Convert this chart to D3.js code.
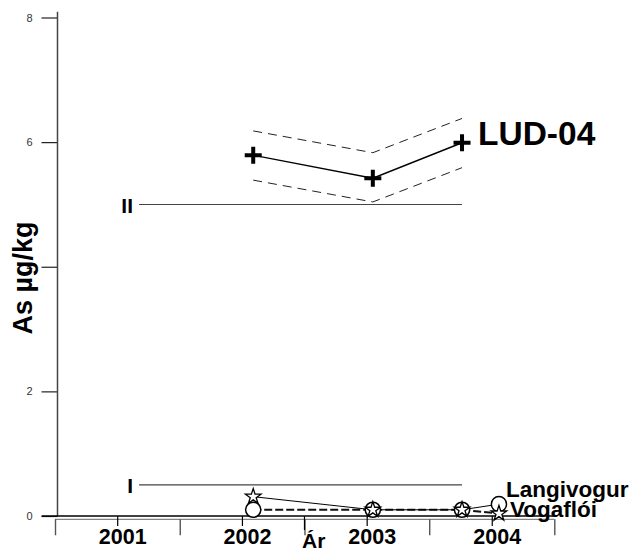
<!DOCTYPE html>
<html>
<head>
<meta charset="utf-8">
<script src="https://cdn.jsdelivr.net/npm/d3@7"></script>
<style>
  html, body { margin: 0; padding: 0; background: #fff; }
  svg { display: block; font-family: "Liberation Sans", Arial, sans-serif; }
</style>
</head>
<body>
<svg id="chart" width="632" height="552"></svg>
<script>
// ---- data ----
const yearLabels = ["2001", "2002", "2003", "2004"];
const yearStarts = ["2001-01-01", "2002-01-01", "2003-01-01", "2004-01-01", "2005-01-01"];
const yTicks = [0, 2, 4, 6, 8];

const ludDates = ["2002-08-04", "2003-07-20", "2004-04-06"];
const ludValues = [5.79, 5.42, 5.99];
const ludUpper = [6.18, 5.83, 6.38];
const ludLower = [5.39, 5.04, 5.59];

const refLevels = [5.0, 0.5];
const refLabels = ["II", "I"];
const refDates = ["2001-09-04", "2004-04-06"];

const lowDates = ["2002-08-04", "2003-07-20", "2004-04-06", "2004-07-23"];
const langivogurValues = [0.31, 0.10, 0.10, 0.19];
const vogafloiValues = [0.10, 0.10, 0.10, 0.04];
const starValues = [0.31, 0.10, 0.10, 0.04];
const circleValues = [0.10, 0.10, 0.10, 0.19];

// ---- scales ----
const parse = d3.timeParse("%Y-%m-%d");
const x = d3.scaleTime().domain([parse("2001-01-01"), parse("2005-01-01")]).range([55, 554.3]);
const y = d3.scaleLinear().domain([0, 8]).range([516, 17.5]);

const svg = d3.select("#chart");
const font = '"Liberation Sans", Arial, sans-serif';

// ---- axes ----
const gy = svg.append("g").attr("transform", "translate(57.5,0)")
  .call(d3.axisLeft(y).tickValues(yTicks).tickSize(16).tickPadding(9).tickFormat(d3.format("d")));
gy.select(".domain").remove();
gy.selectAll(".tick line").attr("stroke", "#222").attr("stroke-width", 1.2);
gy.selectAll(".tick text").attr("font-size", 11).attr("font-family", font).attr("fill", "#333");
svg.append("line").attr("x1", 57.5).attr("x2", 57.5).attr("y1", 11.7).attr("y2", y(0))
  .attr("stroke", "#444").attr("stroke-width", 1.5);

svg.append("line").attr("x1", 41.7).attr("x2", x(parse("2005-01-01"))).attr("y1", y(0)).attr("y2", y(0))
  .attr("stroke", "#000").attr("stroke-width", 1.3);
svg.append("line").attr("x1", x(parse("2001-01-01"))).attr("x2", x(parse("2005-01-01"))).attr("y1", 519.3).attr("y2", 519.3)
  .attr("stroke", "#666").attr("stroke-width", 1);

const gx2 = svg.append("g").attr("transform", "translate(0,519.3)")
  .call(d3.axisBottom(x).tickValues(yearStarts.map(parse)).tickSize(16).tickFormat(""));
gx2.select(".domain").remove();
gx2.selectAll(".tick line").attr("stroke", "#555").attr("stroke-width", 1.4);

const midDates = yearLabels.map(s => parse(s + "-07-02"));
const gx1 = svg.append("g").attr("transform", "translate(0," + y(0) + ")")
  .call(d3.axisBottom(x).tickValues(midDates).tickSize(10).tickPadding(2.5).tickFormat((d, i) => yearLabels[i]));
gx1.select(".domain").remove();
gx1.selectAll(".tick line").attr("stroke", "#000").attr("stroke-width", 1.2);
gx1.selectAll(".tick text").attr("font-size", 21.5).attr("font-weight", "bold").attr("font-family", font)
  .attr("fill", "#000").attr("dx", 5);

svg.append("line").attr("x1", x(parse("2003-01-01"))).attr("x2", x(parse("2003-01-01")))
  .attr("y1", y(0)).attr("y2", 530).attr("stroke", "#000").attr("stroke-width", 1.2);
svg.append("text").attr("x", x(parse("2003-01-01")) - 2.5).attr("y", 547.5)
  .attr("font-size", 21).attr("font-weight", "bold").attr("font-family", font).text("Ár");

svg.append("text").attr("transform", "translate(32,278) rotate(-90)").attr("text-anchor", "middle")
  .attr("font-size", 27).attr("font-weight", "bold").attr("font-family", font).text("As µg/kg");

// ---- reference lines ----
refLevels.forEach((v, i) => {
  svg.append("line").attr("x1", x(parse(refDates[0]))).attr("x2", x(parse(refDates[1])))
    .attr("y1", y(v)).attr("y2", y(v)).attr("stroke", "#444").attr("stroke-width", 1.1);
  svg.append("text").attr("x", 133).attr("y", y(v) + 8.5).attr("text-anchor", "end")
    .attr("font-size", 21).attr("font-weight", "bold").attr("font-family", font).text(refLabels[i]);
});

// ---- LUD-04 ----
const ld = ludDates.map(parse);
const line = d3.line().x(d => x(d[0])).y(d => y(d[1]));
[ludUpper, ludLower].forEach(arr => {
  svg.append("path").attr("d", line(ld.map((d, i) => [d, arr[i]])))
    .attr("fill", "none").attr("stroke", "#222").attr("stroke-width", 1).attr("stroke-dasharray", "9,6");
});
svg.append("path").attr("d", line(ld.map((d, i) => [d, ludValues[i]])))
  .attr("fill", "none").attr("stroke", "#000").attr("stroke-width", 1.4);
svg.selectAll(".plus").data(ludValues).enter().append("path")
  .attr("transform", (d, i) => "translate(" + x(ld[i]) + "," + y(d) + ")")
  .attr("d", "M-8.5,0H8.5M0,-8.5V8.5").attr("stroke", "#000").attr("stroke-width", 4);
svg.append("text").attr("x", x(ld[2]) + 16).attr("y", 145)
  .attr("font-size", 33.5).attr("font-weight", "bold").attr("font-family", font).text("LUD-04");

// ---- low series ----
const lowd = lowDates.map(parse);
svg.append("path").attr("d", line(lowd.map((d, i) => [d, vogafloiValues[i]])))
  .attr("fill", "none").attr("stroke", "#111").attr("stroke-width", 2).attr("stroke-dasharray", "8,3");
svg.append("path").attr("d", line(lowd.map((d, i) => [d, langivogurValues[i]])))
  .attr("fill", "none").attr("stroke", "#000").attr("stroke-width", 1);
svg.selectAll(".circ").data(circleValues).enter().append("circle")
  .attr("cx", (d, i) => x(lowd[i])).attr("cy", d => y(d)).attr("r", 7.6)
  .attr("fill", "#fff").attr("stroke", "#000").attr("stroke-width", 1.5);
svg.selectAll(".star").data(starValues).enter().append("path")
  .attr("transform", (d, i) => "translate(" + x(lowd[i]) + "," + y(d) + ")")
  .attr("d", d3.symbol(d3.symbolStar, 75)())
  .attr("fill", "#fff").attr("stroke", "#000").attr("stroke-width", 1.3);

svg.append("text").attr("x", x(lowd[3]) + 7).attr("y", 497.3)
  .attr("font-size", 22.5).attr("font-weight", "bold").attr("font-family", font).text("Langivogur");
svg.append("text").attr("x", x(lowd[3]) + 11).attr("y", 516.5)
  .attr("font-size", 22.5).attr("font-weight", "bold").attr("font-family", font).text("Vogaflói");
</script>
</body>
</html>
